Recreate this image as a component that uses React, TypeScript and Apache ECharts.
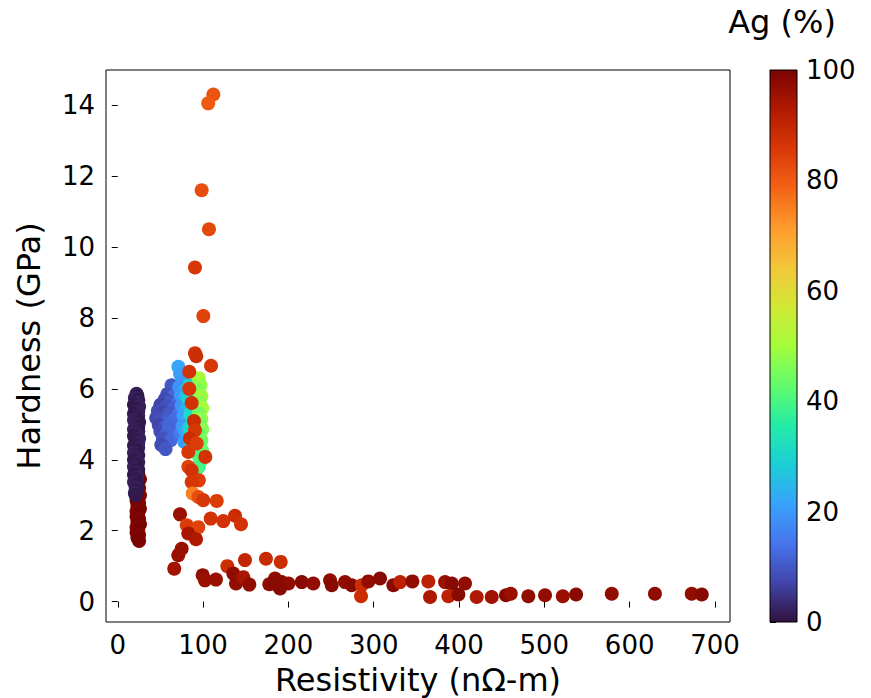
import React, { useEffect, useRef } from "react";
import * as echarts from "echarts";

// ---- axis ticks ----
const xTicks = [0, 100, 200, 300, 400, 500, 600, 700];
const yTicks = [0, 2, 4, 6, 8, 10, 12, 14];
const xRange = [-13.8, 717.6];
const yRange = [-0.575, 14.99];
const agRange = [0, 100];

// turbo colour map, sampled evenly from 0 to 1
const turboColors = [
  "#30123b", "#4145ab", "#4675ed", "#39a2fc", "#1bcfd4", "#24eca6", "#61fc6c", "#a4fc3b",
  "#d1e834", "#f3c63a", "#fe9b2d", "#f36315", "#d93806", "#b11901", "#7a0402",
];

// ---- data: [resistivity, hardness, Ag%] ----
const redColumn: number[][] = [
  [24, 3.6, 99], [26, 3.45, 100], [23, 3.3, 99], [25, 3.2, 100], [22, 3.1, 100], [26, 3.0, 99],
  [24, 2.92, 100], [22, 2.85, 100], [25, 2.78, 99], [23, 2.7, 100], [26, 2.62, 100], [22, 2.55, 99],
  [24, 2.48, 100], [22, 2.4, 100], [25, 2.33, 99], [23, 2.25, 100], [26, 2.18, 100], [22, 2.1, 99],
  [24, 2.02, 100], [22, 1.95, 100], [25, 1.88, 99], [23, 1.8, 100], [25, 1.71, 100],
];

const purpleColumn: number[][] = [
  [22, 5.86, 2], [23, 5.8, 1], [20, 5.74, 2], [24, 5.68, 1], [22, 5.62, 2], [19, 5.55, 1],
  [25, 5.5, 2], [21, 5.44, 1], [24, 5.37, 2], [19, 5.3, 1], [24, 5.24, 2], [22, 5.18, 1],
  [19, 5.12, 2], [25, 5.06, 1], [21, 5.0, 2], [24, 4.93, 1], [19, 4.86, 2], [24, 4.8, 1],
  [22, 4.74, 2], [19, 4.67, 1], [25, 4.6, 2], [21, 4.54, 1], [24, 4.47, 2], [19, 4.4, 1],
  [24, 4.34, 2], [22, 4.28, 1], [19, 4.2, 2], [24, 4.13, 1], [21, 4.06, 2], [19, 4.0, 1],
  [24, 3.93, 2], [22, 3.86, 1], [19, 3.8, 2], [24, 3.72, 1], [21, 3.65, 2], [19, 3.58, 1],
  [23, 3.5, 2], [21, 3.44, 1], [19, 3.37, 2], [23, 3.3, 1], [21, 3.22, 2], [22, 3.14, 1],
  [20, 3.06, 2], [21, 3.0, 1],
];

const blueCluster: number[][] = [
  [63, 6.1, 10], [68, 5.95, 11], [58, 5.85, 9], [65, 5.78, 12], [55, 5.7, 8], [61, 5.62, 10],
  [70, 5.6, 13], [50, 5.55, 7], [57, 5.5, 9], [66, 5.45, 11], [47, 5.38, 8], [53, 5.32, 7],
  [60, 5.3, 10], [72, 5.3, 14], [45, 5.18, 8], [51, 5.12, 9], [58, 5.1, 11], [64, 5.05, 12],
  [48, 4.98, 7], [55, 4.92, 10], [62, 4.88, 9], [70, 4.9, 14], [50, 4.8, 8], [57, 4.74, 11],
  [66, 4.7, 13], [53, 4.6, 9], [62, 4.55, 12], [51, 4.42, 8], [56, 4.3, 10], [73, 4.75, 15],
  [68, 5.15, 13], [75, 5.5, 16], [60, 4.95, 12],
];

const lightBlueCluster: number[][] = [
  [71, 6.62, 22], [73, 6.42, 21], [76, 6.2, 20], [72, 6.05, 19], [78, 5.95, 23], [74, 5.82, 20],
  [79, 5.7, 22], [75, 5.55, 19], [80, 5.4, 24], [77, 5.25, 21], [81, 5.1, 23], [76, 4.95, 20],
  [79, 4.82, 22], [82, 4.65, 24], [78, 4.5, 21], [80, 5.8, 25],
];

const cyanCluster: number[][] = [
  [84, 6.1, 30], [86, 5.9, 32], [83, 5.7, 29], [87, 5.5, 33], [85, 5.3, 31], [88, 5.1, 34],
  [84, 4.9, 30], [87, 4.7, 32], [86, 4.5, 33], [89, 4.3, 35], [88, 5.75, 31],
];

const greenCluster: number[][] = [
  [95, 6.3, 50], [97, 6.1, 48], [94, 5.95, 46], [98, 5.8, 49], [96, 5.6, 47], [99, 5.45, 50],
  [95, 5.3, 45], [98, 5.15, 48], [96, 5.0, 44], [99, 4.85, 47], [95, 4.7, 42], [98, 4.55, 45],
  [96, 4.4, 41], [99, 4.25, 44], [95, 4.1, 40], [97, 3.95, 42], [95, 3.8, 39], [92, 3.72, 40],
];

const orangeGroup: number[][] = [
  [112, 14.3, 81], [106, 14.05, 80], [98.3, 11.6, 82], [106.9, 10.5, 83], [90.5, 9.42, 86],
  [100.3, 8.05, 84], [90.5, 7.0, 87], [92, 6.92, 88], [109.3, 6.65, 86],
  [83.8, 6.48, 87], [83.8, 6.0, 86], [86.6, 5.6, 87], [89.3, 5.09, 88], [90.5, 4.83, 86],
  [84.6, 4.6, 88], [92.5, 4.46, 85], [102.6, 4.08, 87], [82.7, 4.22, 86], [82.7, 3.8, 84],
  [86.6, 3.7, 87], [95, 3.42, 85], [86.6, 3.37, 86], [87.8, 3.05, 75], [94.4, 2.95, 82],
  [100.2, 2.86, 86], [116, 2.84, 85],
  [72.9, 2.46, 96], [80.8, 2.15, 85], [94.4, 2.1, 84], [82.7, 1.92, 94], [91.7, 1.76, 93],
  [108.9, 2.34, 87], [123.7, 2.27, 87], [137.4, 2.42, 88], [144.4, 2.18, 87],
  [74.9, 1.49, 96], [70.9, 1.31, 96], [66.2, 0.93, 95],
];

const tailGroup: number[][] = [
  [99.5, 0.74, 97], [102.2, 0.6, 96], [115.1, 0.62, 96], [128.4, 1.0, 88], [135.4, 0.79, 97],
  [138.6, 0.51, 97], [149.1, 1.17, 90], [147.1, 0.69, 94], [154.2, 0.48, 97], [173.7, 1.21, 89],
  [177.6, 0.49, 97], [191, 1.12, 88], [184.3, 0.65, 97], [182.3, 0.51, 98], [192.1, 0.55, 98],
  [200, 0.51, 97], [190.2, 0.37, 98], [215.6, 0.55, 98], [229.2, 0.51, 97], [248.8, 0.6, 97],
  [250.8, 0.46, 98], [266.4, 0.55, 97], [274.2, 0.46, 98], [285.9, 0.46, 88], [285.1, 0.15, 88],
  [293.7, 0.57, 97], [307.4, 0.65, 98], [323, 0.46, 98], [331, 0.55, 91], [345.3, 0.57, 97],
  [364, 0.57, 91], [366, 0.13, 93], [383.6, 0.55, 96], [391.5, 0.51, 98], [387.5, 0.15, 91],
  [399.2, 0.2, 98], [407, 0.51, 97], [420.7, 0.13, 93], [438.3, 0.13, 95], [455, 0.18, 98],
  [460.6, 0.22, 96], [481.2, 0.15, 97], [500.8, 0.18, 97], [521.6, 0.15, 96], [537.2, 0.2, 98],
  [579, 0.22, 97], [629.6, 0.22, 97], [672.7, 0.22, 97], [684.5, 0.2, 98],
];

const FONT = "DejaVu Sans";

export default function App() {
  const ref = useRef<HTMLDivElement>(null);
  useEffect(() => {
    if (!ref.current) return;
    const chart = echarts.init(ref.current, null, { renderer: "svg" });
    const n = turboColors.length - 1;
    // top of the colour bar = 100 %, so offset 0 -> last colour
    const stops = turboColors.map((_, i) => ({ offset: i / n, color: turboColors[n - i] }));

    const data = [
      ...redColumn,
      ...purpleColumn,
      ...blueCluster,
      ...lightBlueCluster,
      ...cyanCluster,
      ...greenCluster,
      ...orangeGroup,
      ...tailGroup,
    ];

    const cb = { left: 770, top: 70, width: 27, height: 552 };

    chart.setOption({
      animation: false,
      backgroundColor: "#fff",
      textStyle: { fontFamily: FONT },
      grid: [
        {
          left: 106, top: 70, width: 624, height: 552,
          show: true, borderColor: "#000", borderWidth: 1, backgroundColor: "transparent",
          containLabel: false, outerBoundsMode: "none",
        },
        {
          left: cb.left, top: cb.top, width: cb.width, height: cb.height,
          show: false, containLabel: false, outerBoundsMode: "none",
        },
      ],
      xAxis: [
        {
          type: "value",
          gridIndex: 0,
          min: xRange[0],
          max: xRange[1],
          name: "Resistivity (nΩ-m)",
          nameLocation: "middle",
          nameGap: 42,
          nameTextStyle: { fontSize: 32, color: "#000", fontFamily: FONT },
          axisLine: { show: false },
          splitLine: { show: false },
          axisTick: { show: true, inside: false, length: 6, customValues: xTicks, lineStyle: { color: "#000" } },
          axisLabel: { fontSize: 26, color: "#000", margin: 10, customValues: xTicks, fontFamily: FONT },
        },
        { type: "value", gridIndex: 1, min: 0, max: 1, show: false },
      ],
      yAxis: [
        {
          type: "value",
          gridIndex: 0,
          min: yRange[0],
          max: yRange[1],
          name: "Hardness (GPa)",
          nameLocation: "middle",
          nameRotate: 90,
          nameGap: 61,
          nameTextStyle: { fontSize: 32, color: "#000", fontFamily: FONT },
          axisLine: { show: false },
          splitLine: { show: false },
          axisTick: { show: true, inside: false, length: 6, customValues: yTicks, lineStyle: { color: "#000" } },
          axisLabel: { fontSize: 26, color: "#000", margin: 11, customValues: yTicks, fontFamily: FONT },
        },
        {
          type: "value",
          gridIndex: 1,
          position: "right",
          min: agRange[0],
          max: agRange[1],
          interval: 20,
          axisLine: { show: false },
          splitLine: { show: false },
          axisTick: { show: true, inside: false, length: 6, lineStyle: { color: "#000" } },
          axisLabel: { fontSize: 26, color: "#000", margin: 9, fontFamily: FONT },
        },
      ],
      visualMap: {
        type: "continuous",
        show: false,
        min: agRange[0],
        max: agRange[1],
        dimension: 2,
        seriesIndex: 0,
        inRange: { color: turboColors },
      },
      graphic: [
        {
          type: "rect",
          shape: { x: cb.left, y: cb.top, width: cb.width, height: cb.height },
          style: {
            fill: { type: "linear", x: 0, y: 0, x2: 0, y2: 1, colorStops: stops },
            stroke: "#000",
            lineWidth: 1,
          },
          z: 10,
        },
        {
          type: "text",
          x: 782,
          y: 22,
          style: {
            text: "Ag (%)",
            fontSize: 32,
            fontFamily: FONT,
            fill: "#000",
            textAlign: "center",
            textVerticalAlign: "middle",
          },
        },
      ],
      series: [
        {
          type: "scatter",
          xAxisIndex: 0,
          yAxisIndex: 0,
          data,
          symbol: "circle",
          symbolSize: 14,
          itemStyle: { opacity: 1 },
          emphasis: { disabled: true },
          clip: true,
        },
      ],
    });
    return () => chart.dispose();
  }, []);
  return <div ref={ref} style={{ position: "absolute", left: 0, top: 0, width: 871, height: 698 }} />;
}
